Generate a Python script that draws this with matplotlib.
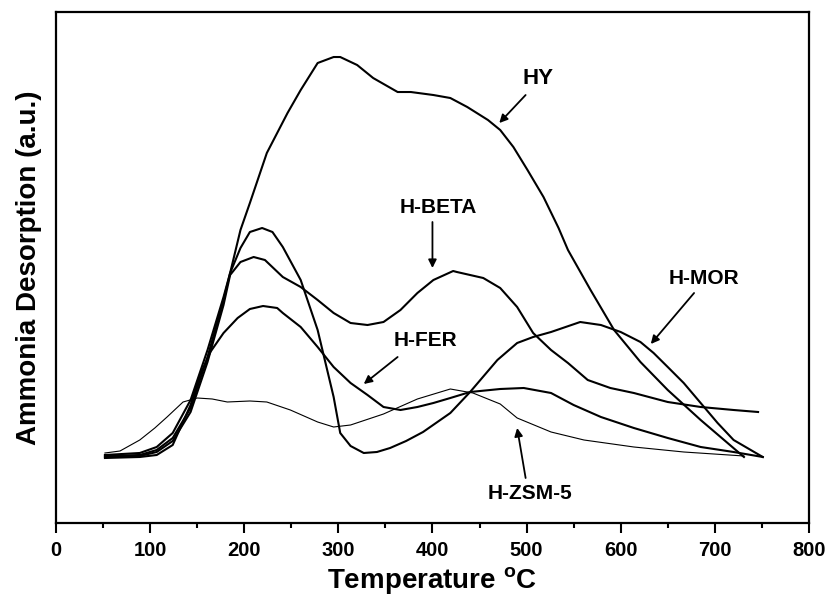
import matplotlib.pyplot as plt

# temperature (C) and desorption signal (a.u.)
hy_t = [52, 89, 107, 124, 143, 161, 178, 185, 196, 206, 224, 246, 260, 278, 295, 302, 320, 337, 363, 377,
        401, 419, 437, 459, 472, 486, 501, 518, 534, 544, 568, 593, 621, 650, 685, 731]
hy_y = [68, 70, 76, 90, 123, 173, 226, 250, 293, 320, 370, 410, 433, 460, 466, 466, 458, 445, 431, 431,
        428, 425, 416, 403, 393, 376, 353, 326, 295, 273, 233, 193, 161, 133, 103, 66]

mor_t = [52, 89, 107, 124, 143, 161, 178, 185, 196, 206, 219, 230, 241, 260, 278, 295, 302, 313, 327, 341,
         355, 372, 390, 419, 440, 469, 490, 507, 526, 557, 579, 600, 621, 635, 650, 667, 685, 703, 720, 751]
mor_y = [67, 68, 73, 85, 115, 166, 223, 250, 275, 291, 295, 291, 276, 243, 193, 126, 90, 77, 70, 71,
         75, 82, 91, 110, 131, 163, 180, 186, 191, 201, 198, 191, 181, 170, 156, 140, 120, 100, 83, 66]

beta_t = [52, 89, 107, 124, 143, 161, 178, 185, 196, 210, 222, 241, 260, 278, 295, 313, 331, 348, 366, 384,
          401, 422, 426, 454, 472, 490, 507, 526, 544, 565, 589, 614, 650, 685, 720, 746]
beta_y = [66, 67, 71, 82, 111, 161, 218, 248, 261, 266, 263, 246, 236, 223, 210, 200, 198, 201, 213, 230,
          243, 252, 251, 245, 235, 216, 190, 173, 160, 143, 135, 130, 121, 116, 113, 111]

fer_t = [52, 89, 107, 124, 143, 153, 164, 178, 193, 206, 220, 235, 241, 260, 278, 295, 313, 331, 348, 366,
         384, 401, 419, 440, 472, 497, 526, 550, 579, 614, 650, 685, 720, 751]
fer_y = [65, 66, 68, 78, 118, 148, 171, 190, 205, 214, 217, 215, 210, 196, 176, 156, 140, 128, 116, 113,
         116, 120, 125, 131, 134, 135, 130, 118, 106, 95, 85, 76, 71, 66]

zsm_t = [52, 68, 89, 105, 118, 135, 150, 166, 182, 206, 224, 249, 278, 295, 313, 348, 384, 419, 443, 472,
         490, 526, 561, 614, 667, 731]
zsm_y = [70, 72, 83, 95, 106, 121, 125, 124, 121, 122, 121, 113, 101, 96, 98, 109, 124, 134, 130, 119,
         105, 91, 83, 76, 71, 67]

font = ['Liberation Sans', 'DejaVu Sans']

fig = plt.figure(figsize=(8.31, 6.01), dpi=100)
ax = fig.add_axes([0.0674, 0.1298, 0.906, 0.8502])

ax.plot(hy_t, hy_y, color='black', lw=1.5)
ax.plot(mor_t, mor_y, color='black', lw=1.5)
ax.plot(beta_t, beta_y, color='black', lw=1.5)
ax.plot(fer_t, fer_y, color='black', lw=1.5)
ax.plot(zsm_t, zsm_y, color='black', lw=0.8)

arrow = dict(arrowstyle='-|>', color='black', lw=1.3, mutation_scale=12, shrinkA=0, shrinkB=0)
ax.annotate('', xy=(471, 400), xytext=(499, 428), arrowprops=arrow)
ax.annotate('', xy=(400, 255), xytext=(400, 301), arrowprops=arrow)
ax.annotate('', xy=(327, 139), xytext=(363, 166), arrowprops=arrow)
ax.annotate('', xy=(632, 179), xytext=(678, 230), arrowprops=arrow)
ax.annotate('', xy=(490, 95), xytext=(499, 45), arrowprops=arrow)

ax.text(512, 445, 'HY', family=font, fontsize=16, fontweight='bold', ha='center', va='center')
ax.text(406, 316, 'H-BETA', family=font, fontsize=15, fontweight='bold', ha='center', va='center')
ax.text(393, 183, 'H-FER', family=font, fontsize=15, fontweight='bold', ha='center', va='center')
ax.text(688, 245, 'H-MOR', family=font, fontsize=15, fontweight='bold', ha='center', va='center')
ax.text(504, 29, 'H-ZSM-5', family=font, fontsize=15, fontweight='bold', ha='center', va='center')

ax.set_xlim(0, 800)
ax.set_ylim(0, 511)
ax.set_xticks(range(0, 801, 100))
ax.set_xticks(range(50, 800, 100), minor=True)
ax.set_yticks([])
ax.tick_params(axis='x', which='major', direction='out', length=7, width=1.5, pad=6)
ax.tick_params(axis='x', which='minor', direction='out', length=3.5, width=1.5)
for lab in ax.get_xticklabels():
    lab.set_family(font)
    lab.set_fontweight('bold')
    lab.set_fontsize(14.5)
for sp in ax.spines.values():
    sp.set_linewidth(1.6)

ax.set_xlabel('Temperature $^{\\mathregular{o}}$C', family=font, fontsize=20, fontweight='bold', labelpad=4)
ax.set_ylabel('Ammonia Desorption (a.u.)', family=font, fontsize=20, fontweight='bold', labelpad=10)

fig.savefig('out.png', dpi=100)
